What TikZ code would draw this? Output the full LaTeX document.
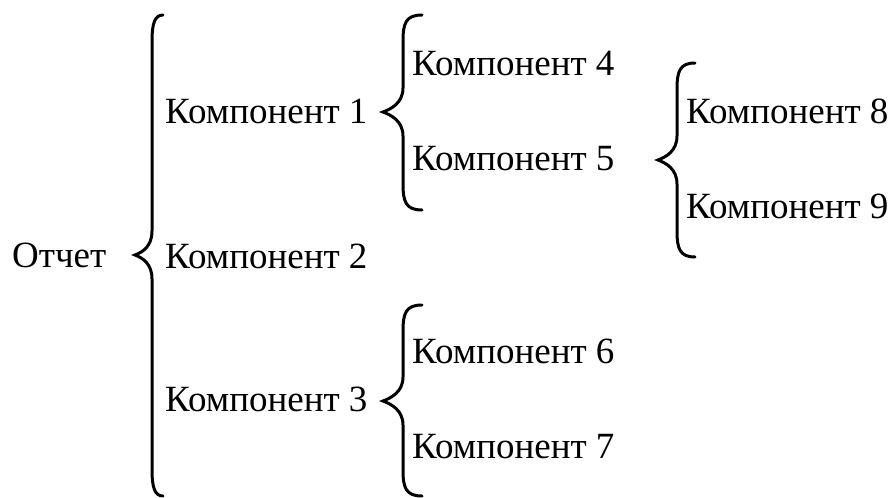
\documentclass[tikz,border=0pt]{standalone}
\usepackage{fontspec}
\setmainfont{Liberation Serif}
\newcommand\mybrace[6]{%
  \draw[bracestyle] ({#1},{#4}) .. controls ({#2+3},{#4}) and ({#2},{#4+8}) .. ({#2},{#4+26})
    -- ({#2},{#5-24})
    .. controls ({#2},{#5-9}) and ({#3+8},{#5-3}) .. ({#3},{#5})
    .. controls ({#3+8},{#5+3}) and ({#2},{#5+9}) .. ({#2},{#5+24})
    -- ({#2},{#6-26})
    .. controls ({#2},{#6-8}) and ({#2+3},{#6}) .. ({#1},{#6});}
\tikzset{
  bracestyle/.style={line width=3pt, line cap=round, black},
  lbl/.style={anchor=base west, inner sep=0pt, font=\fontsize{37}{42}\selectfont}
}
\begin{document}
\begin{tikzpicture}[x=1pt,y=-1pt]
\useasboundingbox[fill=white] (0,0) rectangle (892,498);
\node[lbl] (r) at (12,267) {Отчет};
\node[lbl] (c1) at (165,123) {Компонент 1};
\node[lbl] (c2) at (165,268) {Компонент 2};
\node[lbl] (c3) at (165,411) {Компонент 3};
\node[lbl] (c4) at (412,75) {Компонент 4};
\node[lbl] (c5) at (412,170) {Компонент 5};
\node[lbl] (c6) at (412,363) {Компонент 6};
\node[lbl] (c7) at (412,458) {Компонент 7};
\node[lbl] (c8) at (686,123) {Компонент 8};
\node[lbl] (c9) at (686,218) {Компонент 9};
\mybrace{163}{152}{135}{15}{255}{496}
\mybrace{422}{403}{383}{15}{112}{210}
\mybrace{422}{403}{383}{305}{401}{496}
\mybrace{695}{677}{658}{63}{160}{257}
\end{tikzpicture}
\end{document}
